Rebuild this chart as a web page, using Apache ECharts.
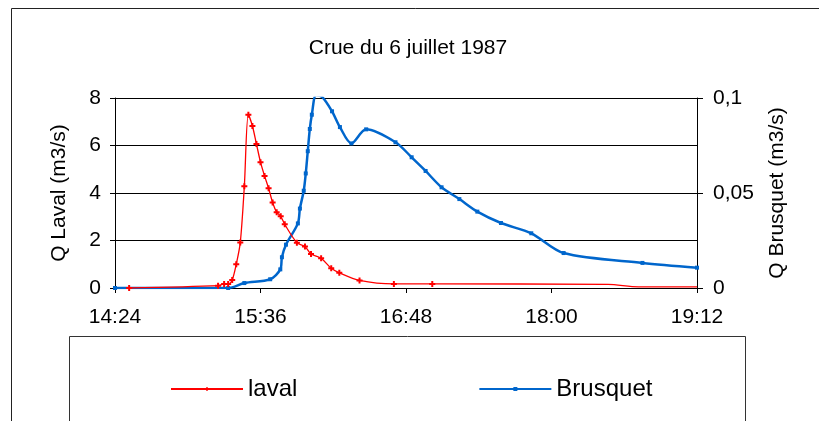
<!DOCTYPE html>
<html>
<head>
<meta charset="utf-8">
<script src="https://cdn.jsdelivr.net/npm/echarts@6/dist/echarts.min.js"></script>
<style>
  html, body { margin:0; padding:0; background:#fff; }
  #chart { width:819px; height:421px; }
</style>
</head>
<body>
<div id="chart"></div>
<script>
/* axis ticks */
const X_TICKS = ['14:24', '15:36', '16:48', '18:00', '19:12']
const LAVAL_TICKS = [0, 2, 4, 6, 8]
const BRUSQUET_TICKS = [0, 0.05, 0.1]

/* laval (m3/s) */
const lavalTimes = ['14:31','15:15','15:18','15:20','15:22','15:24','15:26','15:28','15:30','15:32',
  '15:34','15:36','15:38','15:40','15:42','15:44','15:46','15:48','15:54','15:58',
  '16:01','16:06','16:11','16:15','16:25','16:42','17:01','18:28','18:43','19:12']
const lavalValues = [0, 0.1, 0.17, 0.17, 0.34, 1.0, 1.92, 4.28, 7.3, 6.82,
  6.06, 5.3, 4.72, 4.2, 3.6, 3.19, 3.02, 2.68, 1.91, 1.75,
  1.43, 1.25, 0.83, 0.64, 0.32, 0.17, 0.17, 0.15, 0.05, 0.05]
const lavalMarked = 27   // points after this have no marker

/* Brusquet (m3/s) */
const brusquetTimes = ['14:24','15:20','15:28','15:40:48','15:45:48','15:46:36','15:48:36','15:54:30','15:55:30','15:57:24',
  '15:58:24','15:59:24','16:00:24','16:01:24','16:03:30','16:06:36','16:11:24','16:15:18','16:21','16:28:18',
  '16:42:48','16:50:48','16:57:42','17:05:36','17:14:24','17:23:18','17:35','17:50','18:06','18:45','19:12']
const brusquetValues = [0, 0, 0.0026, 0.0046, 0.0098, 0.0162, 0.0228, 0.034, 0.0418, 0.0512,
  0.0603, 0.072, 0.0837, 0.0912, 0.1015, 0.1005, 0.093, 0.0847, 0.0761, 0.0835,
  0.0767, 0.0688, 0.0616, 0.053, 0.0468, 0.0402, 0.0342, 0.0288, 0.0184, 0.0132, 0.0107]

function toMin(s) {
  const p = s.split(':').map(Number)
  return p[0] * 60 + p[1] + (p[2] || 0) / 60
}
function fmtTime(m) {
  const h = Math.floor(m / 60), mm = Math.round(m % 60)
  return h + ':' + String(mm).padStart(2, '0')
}

const xMin = toMin(X_TICKS[0])
const xMax = toMin(X_TICKS[X_TICKS.length - 1])
const xStep = toMin(X_TICKS[1]) - xMin

const FONT = '"Liberation Sans", Arial, sans-serif'
const axisText = { color:'#000', fontSize:21, fontFamily:FONT }
const blackLine = { color:'#000', width:1 }

const chart = echarts.init(document.getElementById('chart'), null, { renderer:'canvas' })

chart.setOption({
  animation: false,
  backgroundColor: '#fff',
  title: {
    text: 'Crue du 6 juillet 1987',
    left: 403, top: 33, textAlign: 'center',
    textStyle: { color:'#000', fontSize:21, fontWeight:'normal', fontFamily:FONT }
  },
  grid: { left:115, right:122, top:98, bottom:133, containLabel:false, outerBoundsMode:'none' },
  legend: {
    left: 165, top: 372,
    itemWidth: 72, itemHeight: 5, itemGap: 181,
    textStyle: { color:'#000', fontSize:24, fontFamily:FONT },
    data: ['laval', 'Brusquet']
  },
  graphic: [
    { type:'rect', silent:true, z:-1, shape:{ x:11.5, y:8.5, width:900, height:600 },
      style:{ fill:null, stroke:'#222', lineWidth:1 } },
    { type:'rect', silent:true, z:-1, shape:{ x:69.5, y:336.5, width:676, height:200 },
      style:{ fill:null, stroke:'#333', lineWidth:1 } }
  ],
  xAxis: {
    type: 'value',
    min: xMin, max: xMax, interval: xStep,
    axisLine: { show:true, onZero:false, lineStyle:blackLine },
    axisTick: { show:true, length:5, lineStyle:blackLine },
    axisLabel: { ...axisText, margin:19, formatter: v => fmtTime(v) },
    splitLine: { show:false }
  },
  yAxis: [
    {
      type: 'value',
      min: LAVAL_TICKS[0], max: LAVAL_TICKS[LAVAL_TICKS.length - 1],
      interval: LAVAL_TICKS[1] - LAVAL_TICKS[0],
      name: 'Q Laval (m3/s)', nameLocation: 'middle', nameGap: 45, nameMoveOverlap: false,
      nameTextStyle: axisText,
      axisLine: { show:true, lineStyle:blackLine },
      axisTick: { show:true, length:5, lineStyle:blackLine },
      axisLabel: { ...axisText, margin:14 },
      splitLine: { show:true, lineStyle:blackLine }
    },
    {
      type: 'value',
      min: BRUSQUET_TICKS[0], max: BRUSQUET_TICKS[BRUSQUET_TICKS.length - 1],
      interval: BRUSQUET_TICKS[1] - BRUSQUET_TICKS[0],
      position: 'right',
      name: 'Q Brusquet (m3/s)', nameLocation: 'middle', nameGap: 70, nameMoveOverlap: false,
      nameTextStyle: axisText,
      axisLine: { show:true, lineStyle:blackLine },
      axisTick: { show:true, length:6, lineStyle:blackLine },
      axisLabel: { ...axisText, margin:16, formatter: v => String(+v.toFixed(2)).replace('.', ',') },
      splitLine: { show:false }
    }
  ],
  series: [
    {
      name: 'laval',
      type: 'line',
      yAxisIndex: 0,
      data: lavalTimes.map((t, i) => [toMin(t), lavalValues[i]]),
      smooth: 0.3,
      symbol: 'path://M2,0H4V2H6V4H4V6H2V4H0V2H2Z',
      symbolSize: (v, p) => p.dataIndex < lavalMarked ? 6 : 0,
      showAllSymbol: true,
      lineStyle: { color:'#ff0000', width:1.3 },
      itemStyle: { color:'#ff0000' },
      z: 3
    },
    {
      name: 'Brusquet',
      type: 'line',
      yAxisIndex: 1,
      data: brusquetTimes.map((t, i) => [toMin(t), brusquetValues[i]]),
      smooth: 0.3,
      symbol: 'rect',
      symbolSize: 4,
      showAllSymbol: true,
      lineStyle: { color:'#0066cc', width:2.5 },
      itemStyle: { color:'#0066cc' },
      z: 2
    }
  ]
})
</script>
</body>
</html>
